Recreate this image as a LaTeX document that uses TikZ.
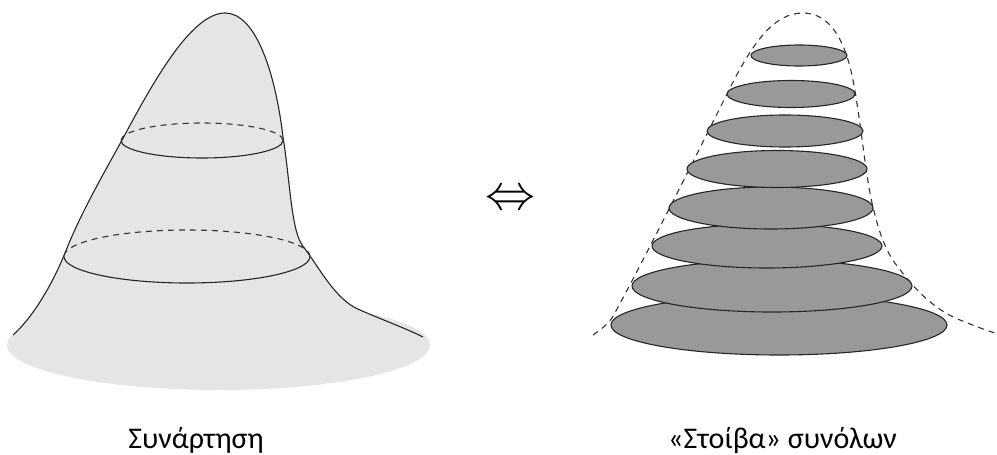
\documentclass[tikz,border=0pt]{standalone}
\usepackage{fontspec}
\setmainfont{Carlito}
\begin{document}
\begin{tikzpicture}[x=1pt,y=1pt,
  outline/.style={draw=black!85,line width=1.1pt},
  hidden/.style={draw=black!80,line width=1.1pt,dash pattern=on 6pt off 5pt},
  lightfill/.style={fill=black!10},
  slab/.style={fill=black!40,draw=black!85,line width=1.1pt},
  label/.style={font=\fontsize{30}{34}\selectfont,inner sep=0pt}]
\useasboundingbox (0,0) rectangle (997,-455);
% ---- left: function surface ----
\coordinate (base) at (218.5,-345);
\fill[lightfill] (base) ellipse [x radius=211.5, y radius=45];
\path[lightfill] (13,-335) .. controls (30,-320) and (50,-290) .. (65,-253)
  .. controls (80,-215) and (100,-180) .. (121,-142)
  .. controls (150,-88) and (190,-13) .. (225,-13)
  .. controls (255,-13) and (275,-70) .. (283,-137)
  .. controls (290,-180) and (291,-228) .. (302,-245)
  .. controls (320,-268) and (335,-300) .. (360,-310)
  .. controls (385,-321) and (405,-328) .. (423,-337) -- cycle;
\draw[outline] (13,-335) .. controls (30,-320) and (50,-290) .. (65,-253)
  .. controls (80,-215) and (100,-180) .. (121,-142)
  .. controls (150,-88) and (190,-13) .. (225,-13)
  .. controls (255,-13) and (275,-70) .. (283,-137)
  .. controls (290,-180) and (291,-228) .. (302,-245)
  .. controls (320,-268) and (335,-300) .. (360,-310)
  .. controls (385,-321) and (405,-328) .. (423,-337);
% upper level cut
\coordinate (cutA) at (202,-140.5);
\draw[hidden] ([xshift=81pt]cutA) arc[start angle=0,end angle=180,x radius=81,y radius=17.5];
\draw[outline] ([xshift=-81pt]cutA) arc[start angle=180,end angle=360,x radius=81,y radius=17.5];
% lower level cut
\coordinate (cutB) at (187,-256.5);
\draw[hidden] ([xshift=123pt]cutB) arc[start angle=0,end angle=180,x radius=123,y radius=26.5];
\draw[outline] ([xshift=-123pt]cutB) arc[start angle=180,end angle=360,x radius=123,y radius=26.5];
% ---- arrow ----
\node[inner sep=0pt,scale=5] (iff) at (510,-200) {$\Leftrightarrow$};
% ---- right: stack of sets ----
\draw[hidden] (593,-335) .. controls (600,-330) and (606,-326) .. (612,-318)
  .. controls (640,-268) and (705,-138) .. (733,-82)
  .. controls (755,-40) and (775,-13) .. (803,-13)
  .. controls (830,-13) and (845,-40) .. (853,-80)
  .. controls (860,-115) and (866,-180) .. (873,-207)
  .. controls (878,-228) and (885,-252) .. (898,-267)
  .. controls (915,-290) and (935,-310) .. (960,-320)
  .. controls (975,-326) and (985,-330) .. (995,-333);
\path[slab] (779,-325) ellipse [x radius=168, y radius=30];
\path[slab] (772,-286) ellipse [x radius=140, y radius=26];
\path[slab] (767,-246) ellipse [x radius=115, y radius=22];
\path[slab] (771,-208) ellipse [x radius=102, y radius=21];
\path[slab] (777,-169) ellipse [x radius=90, y radius=18.5];
\path[slab] (785,-131) ellipse [x radius=78, y radius=16];
\path[slab] (791,-94) ellipse [x radius=64, y radius=13.5];
\path[slab] (799,-55.5) ellipse [x radius=48, y radius=10.5];
% ---- labels ----
\node[label,anchor=base] (lblL) at (196,-448) {Συνάρτηση};
\node[label,anchor=base] (lblR) at (782.5,-448) {«Στοίβα» συνόλων};
\end{tikzpicture}
\end{document}
